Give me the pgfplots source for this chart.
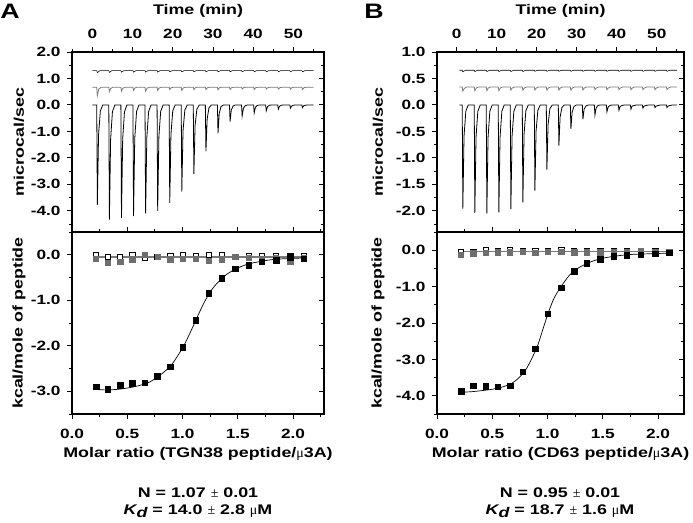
\documentclass[border=0pt]{standalone}
\usepackage{fontspec}
\setmainfont{Liberation Sans}[FakeStretch=1.28]
\newfontfamily\symf{Liberation Serif}
\usepackage{pgfplots}
\pgfplotsset{compat=1.18}

\definecolor{tracegray}{HTML}{7A7A7A}
\definecolor{sqgray}{HTML}{6E6E6E}

\newcommand{\labfont}{\bfseries\fontsize{14}{16}\selectfont}

\pgfplotsset{
  itc/.style={
    scale only axis,
    axis line style={line width=1.1pt},
    tick style={black, line width=0.9pt},
    major tick length=5bp, minor tick length=3bp,
    tick align=outside, ytick pos=left,
    tick label style={font=\bfseries\fontsize{13.5}{15}\selectfont},
    /pgf/number format/assume math mode=true,
    yticklabel style={xshift=-3bp, /pgf/number format/.cd, fixed, fixed zerofill, precision=1},
  },
  ylab/.style={
    ylabel={#1},
    every axis y label/.style={at={(axis description cs:0,0.5)}, xshift=-53bp,
      rotate=90, anchor=center, font=\labfont},
  },
  ylabB/.style={
    ylabel={#1},
    every axis y label/.style={at={(axis description cs:0,0.5)}, xshift=-59bp,
      rotate=90, anchor=center, font=\labfont},
  },
  rt/.style={
    scale only axis, hide x axis, axis y line*=right,
    axis line style={line width=1.1pt},
    tick style={black, line width=0.9pt},
    major tick length=5bp, minor tick length=3bp,
    tick align=inside, yticklabels={},
  },
  topx/.style={
    xtick={0,10,...,50}, minor xtick={-5,5,...,55},
    xtick pos=right, xticklabel pos=right, xlabel={Time (min)},
    xticklabel style={yshift=5bp},
    every axis x label/.style={at={(axis description cs:0.5,1)}, anchor=center,
      yshift=41bp, font=\labfont},
  },
  botx/.style={
    xmin=0, xtick={0,0.5,...,2}, minor xtick={0.25,0.75,...,2.25},
    xticklabel style={yshift=-7bp, /pgf/number format/.cd, fixed, fixed zerofill, precision=1},
    every axis x label/.style={at={(axis description cs:0.5,0)}, anchor=center,
      yshift=-40bp, font=\labfont},
  },
}

\begin{document}
\begin{tikzpicture}
\path[use as bounding box] (0,0) rectangle (693bp,-523bp);

%% ---------------- panel A, raw heats
\begin{axis}[itc, topx, ylab={microcal/sec}, at={(72bp,-52bp)}, anchor=north west,
  width=252bp, height=180bp, xmin=-5.05, xmax=57.6, ymin=-4.8, ymax=2.0,
  ytick={-4,-3,...,2}, minor ytick={-4.5,-3.5,...,1.5}]
\addplot[black, line width=0.55pt] coordinates {
(0,1.30)(1.1,1.30)(1.25,1.22)(1.9,1.30)(4.1,1.30)(4.25,1.23)(4.9,1.30)(7.1,1.30)(7.25,1.24)(7.9,1.30)
(10.1,1.30)(10.25,1.24)(10.9,1.30)(13.1,1.30)(13.25,1.24)(13.9,1.30)(16.1,1.30)(16.25,1.24)(16.9,1.30)
(19.1,1.30)(19.25,1.25)(19.9,1.30)(22.1,1.30)(22.25,1.25)(22.9,1.30)(25.1,1.30)(25.25,1.25)(25.9,1.30)
(28.1,1.30)(28.25,1.25)(28.9,1.30)(31.1,1.30)(31.25,1.25)(31.9,1.30)(34.1,1.30)(34.25,1.25)(34.9,1.30)
(37.1,1.30)(37.25,1.25)(37.9,1.30)(40.1,1.30)(40.25,1.25)(40.9,1.30)(43.1,1.30)(43.25,1.25)(43.9,1.30)
(46.1,1.30)(46.25,1.25)(46.9,1.30)(49.1,1.30)(49.25,1.25)(49.9,1.30)(52.1,1.30)(52.25,1.25)(52.9,1.30)(55,1.30)};
\addplot[tracegray, line width=0.8pt] coordinates {
(0,0.67)(1.1,0.67)(1.25,0.35)(1.6,0.60)(2.2,0.67)(4.1,0.67)(4.25,0.50)(4.6,0.63)(5.2,0.67)
(7.1,0.67)(7.25,0.52)(7.6,0.63)(8.2,0.67)(10.1,0.67)(10.25,0.55)(10.6,0.64)(11.2,0.67)
(13.1,0.67)(13.25,0.52)(13.6,0.63)(14.2,0.67)(16.1,0.67)(16.25,0.55)(16.6,0.64)(17.2,0.67)
(19.1,0.67)(19.25,0.58)(19.6,0.65)(20.2,0.67)(22.1,0.67)(22.25,0.55)(22.6,0.64)(23.2,0.67)
(25.1,0.67)(25.25,0.58)(25.6,0.65)(26.2,0.67)(28.1,0.67)(28.25,0.58)(28.6,0.65)(29.2,0.67)
(31.1,0.67)(31.25,0.57)(31.6,0.65)(32.2,0.67)(34.1,0.67)(34.25,0.58)(34.6,0.65)(35.2,0.67)
(37.1,0.67)(37.25,0.60)(37.6,0.65)(38.2,0.67)(40.1,0.67)(40.25,0.58)(40.6,0.65)(41.2,0.67)
(43.1,0.67)(43.25,0.60)(43.6,0.65)(44.2,0.67)(46.1,0.67)(46.25,0.60)(46.6,0.65)(47.2,0.67)
(49.1,0.67)(49.25,0.60)(49.6,0.65)(50.2,0.67)(52.1,0.67)(52.25,0.58)(52.6,0.65)(53.2,0.67)(55,0.67)};
\addplot[black, line width=0.8pt] coordinates {
(0,0)(1.1,0)(1.25,-3.78)(1.55,-1.13)(2.0,-0.23)(2.6,0)
(4.1,0)(4.25,-4.33)(4.55,-1.30)(5.0,-0.26)(5.6,0)
(7.1,0)(7.25,-4.28)(7.55,-1.28)(8.0,-0.26)(8.6,0)
(10.1,0)(10.25,-4.20)(10.55,-1.26)(11.0,-0.25)(11.6,0)
(13.1,0)(13.25,-4.10)(13.55,-1.23)(14.0,-0.25)(14.6,0)
(16.1,0)(16.25,-4.00)(16.55,-1.20)(17.0,-0.24)(17.6,0)
(19.1,0)(19.25,-3.70)(19.55,-1.11)(20.0,-0.22)(20.6,0)
(22.1,0)(22.25,-3.27)(22.55,-0.98)(23.0,-0.20)(23.6,0)
(25.1,0)(25.25,-2.60)(25.55,-0.78)(26.0,-0.16)(26.6,0)
(28.1,0)(28.25,-1.75)(28.55,-0.53)(29.0,-0.11)(29.6,0)
(31.1,0)(31.25,-1.07)(31.55,-0.32)(32.0,-0.06)(32.6,0)
(34.1,0)(34.25,-0.63)(34.55,-0.19)(35.0,-0.04)(35.6,0)
(37.1,0)(37.25,-0.42)(37.55,-0.13)(38.0,-0.03)(38.6,0)
(40.1,0)(40.25,-0.30)(40.55,-0.09)(41.0,-0.02)(41.6,0)
(43.1,0)(43.25,-0.22)(43.55,-0.07)(44.0,-0.01)(44.6,0)
(46.1,0)(46.25,-0.16)(46.55,-0.05)(47.0,-0.01)(47.6,0)
(49.1,0)(49.25,-0.12)(49.55,-0.04)(50.0,-0.01)(50.6,0)
(52.1,0)(52.25,-0.10)(52.55,-0.03)(53.0,-0.01)(53.6,0)(55,0)};
\end{axis}
\begin{axis}[rt, at={(72bp,-52bp)}, anchor=north west, width=252bp, height=180bp,
  xmin=-5.05, xmax=57.6, ymin=-4.8, ymax=2.0, ytick={-4,-3,...,2}, minor ytick={-4.5,-3.5,...,1.5}]
\addplot[draw=none] coordinates {(0,0)};
\end{axis}

%% ---------------- panel A, isotherm
\begin{axis}[itc, botx, ylab={kcal/mole of peptide}, at={(72bp,-232bp)}, anchor=north west,
  width=252bp, height=182bp, xmax=2.28, ymin=-3.5, ymax=0.5,
  ytick={-3,-2,-1,0}, minor ytick={-3.5,-2.5,...,0.5},
  xlabel={Molar ratio (TGN38 peptide/{\mdseries\symf μ}3A)}]
\addplot[tracegray, line width=1.6pt] coordinates {(0.2,-0.045)(2.1,-0.045)};
\addplot[only marks, mark=square*, mark size=2.7pt, mark options={fill=white, draw=black, line width=0.6pt}] coordinates {
(0.217,-0.01)(0.323,-0.04)(0.435,-0.05)(0.546,0.0)(0.658,-0.07)(0.773,-0.04)(0.888,-0.03)(1.0,-0.01)(1.12,-0.02)
(1.235,0.0)(1.356,-0.01)(1.476,-0.04)(1.597,-0.03)(1.718,-0.03)(1.845,-0.03)(1.975,-0.03)(2.095,-0.03)};
\addplot[only marks, mark=square*, mark size=2.7pt, mark options={fill=sqgray, draw=sqgray}] coordinates {
(0.217,-0.09)(0.323,-0.18)(0.435,-0.15)(0.546,-0.10)(0.658,0.0)(0.773,-0.04)(0.888,-0.10)(1.0,-0.09)(1.12,-0.09)
(1.235,-0.13)(1.356,-0.10)(1.476,-0.04)(1.597,-0.07)(1.718,-0.08)(1.845,-0.06)(1.975,-0.15)(2.095,-0.06)};
\addplot[black, line width=0.7pt, smooth] coordinates {
(0.2,-2.96)(0.3,-2.97)(0.4,-2.96)(0.5,-2.93)(0.6,-2.88)(0.7,-2.80)(0.8,-2.64)(0.9,-2.42)(1.0,-2.05)
(1.05,-1.81)(1.1,-1.55)(1.15,-1.28)(1.2,-1.03)(1.25,-0.82)(1.3,-0.66)(1.4,-0.43)(1.5,-0.29)(1.6,-0.20)
(1.7,-0.15)(1.8,-0.11)(1.9,-0.09)(2.0,-0.08)(2.1,-0.07)};
\addplot[only marks, mark=square*, mark size=2.8pt, mark options={fill=black}] coordinates {
(0.217,-2.90)(0.323,-2.95)(0.435,-2.87)(0.546,-2.82)(0.658,-2.81)(0.773,-2.67)(0.888,-2.46)(1.0,-2.03)(1.12,-1.44)
(1.235,-0.84)(1.356,-0.52)(1.476,-0.31)(1.597,-0.23)(1.718,-0.15)(1.845,-0.12)(1.975,-0.06)(2.095,-0.09)};
\end{axis}
\begin{axis}[rt, at={(72bp,-232bp)}, anchor=north west, width=252bp, height=182bp,
  xmin=0, xmax=2.28, ymin=-3.5, ymax=0.5, ytick={-3,-2,-1,0}, minor ytick={-3.5,-2.5,...,0.5}]
\addplot[draw=none] coordinates {(1,0)};
\end{axis}

%% ---------------- panel B, raw heats
\begin{axis}[itc, topx, ylabB={microcal/sec}, at={(437bp,-52bp)}, anchor=north west,
  width=247bp, height=180bp, xmin=-4.9, xmax=56.8, ymin=-2.4, ymax=1.0,
  ytick={-2,-1.5,...,1}, minor ytick={-2.25,-1.75,...,0.75}]
\addplot[black, line width=0.55pt] coordinates {
(0.7,0.655)(1.4,0.655)(1.55,0.625)(2.2,0.655)(4.4,0.655)(4.55,0.63)(5.2,0.655)(7.4,0.655)(7.55,0.63)(8.2,0.655)
(10.4,0.655)(10.55,0.63)(11.2,0.655)(13.4,0.655)(13.55,0.63)(14.2,0.655)(16.4,0.655)(16.55,0.63)(17.2,0.655)
(19.4,0.655)(19.55,0.635)(20.2,0.655)(22.4,0.655)(22.55,0.635)(23.2,0.655)(25.4,0.655)(25.55,0.635)(26.2,0.655)
(28.4,0.655)(28.55,0.635)(29.2,0.655)(31.4,0.655)(31.55,0.635)(32.2,0.655)(34.4,0.655)(34.55,0.635)(35.2,0.655)
(37.4,0.655)(37.55,0.635)(38.2,0.655)(40.4,0.655)(40.55,0.635)(41.2,0.655)(43.4,0.655)(43.55,0.635)(44.2,0.655)
(46.4,0.655)(46.55,0.635)(47.2,0.655)(49.4,0.655)(49.55,0.635)(50.2,0.655)(52.4,0.655)(52.55,0.635)(53.2,0.655)(55,0.655)};
\addplot[tracegray, line width=0.8pt] coordinates {
(0.7,0.34)(1.4,0.34)(1.55,0.26)(1.9,0.31)(2.5,0.34)(4.4,0.34)(4.55,0.27)(4.9,0.32)(5.5,0.34)
(7.4,0.34)(7.55,0.27)(7.9,0.32)(8.5,0.34)(10.4,0.34)(10.55,0.27)(10.9,0.32)(11.5,0.34)
(13.4,0.34)(13.55,0.28)(13.9,0.32)(14.5,0.34)(16.4,0.34)(16.55,0.28)(16.9,0.32)(17.5,0.34)
(19.4,0.34)(19.55,0.28)(19.9,0.32)(20.5,0.34)(22.4,0.34)(22.55,0.28)(22.9,0.32)(23.5,0.34)
(25.4,0.34)(25.55,0.28)(25.9,0.32)(26.5,0.34)(28.4,0.34)(28.55,0.28)(28.9,0.32)(29.5,0.34)
(31.4,0.34)(31.55,0.28)(31.9,0.32)(32.5,0.34)(34.4,0.34)(34.55,0.29)(34.9,0.32)(35.5,0.34)
(37.4,0.34)(37.55,0.29)(37.9,0.32)(38.5,0.34)(40.4,0.34)(40.55,0.29)(40.9,0.32)(41.5,0.34)
(43.4,0.34)(43.55,0.29)(43.9,0.32)(44.5,0.34)(46.4,0.34)(46.55,0.29)(46.9,0.32)(47.5,0.34)
(49.4,0.34)(49.55,0.29)(49.9,0.32)(50.5,0.34)(52.4,0.34)(52.55,0.29)(52.9,0.32)(53.5,0.34)(55,0.34)};
\addplot[black, line width=0.8pt] coordinates {
(0.7,0)(1.4,0)(1.55,-1.96)(1.85,-0.59)(2.3,-0.12)(2.9,0)
(4.4,0)(4.55,-2.04)(4.85,-0.61)(5.3,-0.12)(5.9,0)
(7.4,0)(7.55,-2.05)(7.85,-0.62)(8.3,-0.12)(8.9,0)
(10.4,0)(10.55,-2.03)(10.85,-0.61)(11.3,-0.12)(11.9,0)
(13.4,0)(13.55,-1.97)(13.85,-0.59)(14.3,-0.12)(14.9,0)
(16.4,0)(16.55,-1.84)(16.85,-0.55)(17.3,-0.11)(17.9,0)
(19.4,0)(19.55,-1.62)(19.85,-0.49)(20.3,-0.10)(20.9,0)
(22.4,0)(22.55,-1.22)(22.85,-0.37)(23.3,-0.07)(23.9,0)
(25.4,0)(25.55,-0.77)(25.85,-0.23)(26.3,-0.05)(26.9,0)
(28.4,0)(28.55,-0.45)(28.85,-0.14)(29.3,-0.03)(29.9,0)
(31.4,0)(31.55,-0.27)(31.85,-0.08)(32.3,-0.02)(32.9,0)
(34.4,0)(34.55,-0.19)(34.85,-0.06)(35.3,-0.01)(35.9,0)
(37.4,0)(37.55,-0.13)(37.85,-0.04)(38.3,-0.01)(38.9,0)
(40.4,0)(40.55,-0.10)(40.85,-0.03)(41.3,-0.01)(41.9,0)
(43.4,0)(43.55,-0.08)(43.85,-0.02)(44.9,0)
(46.4,0)(46.55,-0.06)(46.85,-0.02)(47.9,0)
(49.4,0)(49.55,-0.05)(49.85,-0.02)(50.9,0)
(52.4,0)(52.55,-0.05)(52.85,-0.02)(53.9,0)(55,0)};
\end{axis}
\begin{axis}[rt, at={(437bp,-52bp)}, anchor=north west, width=247bp, height=180bp,
  xmin=-4.9, xmax=56.8, ymin=-2.4, ymax=1.0, ytick={-2,-1.5,...,1}, minor ytick={-2.25,-1.75,...,0.75}]
\addplot[draw=none] coordinates {(0,0)};
\end{axis}

%% ---------------- panel B, isotherm
\begin{axis}[itc, botx, ylabB={kcal/mole of peptide}, at={(437bp,-232bp)}, anchor=north west,
  width=247bp, height=182bp, xmax=2.235, ymin=-4.5, ymax=0.5,
  ytick={-4,-3,-2,-1,0}, minor ytick={-4.5,-3.5,...,0.5},
  xlabel={Molar ratio (CD63 peptide/{\mdseries\symf μ}3A)}]
\addplot[tracegray, line width=1.6pt] coordinates {(0.2,-0.04)(2.1,-0.04)};
\addplot[only marks, mark=square*, mark size=2.7pt, mark options={fill=white, draw=black, line width=0.6pt}] coordinates {
(0.217,-0.05)(0.329,-0.04)(0.44,0.0)(0.55,-0.02)(0.66,0.01)(0.776,-0.02)(0.89,-0.02)(1.0,-0.01)(1.123,0.0)
(1.24,-0.02)(1.356,-0.02)(1.476,-0.02)(1.597,-0.02)(1.718,-0.02)(1.845,-0.01)(1.975,-0.02)(2.10,-0.04)};
\addplot[only marks, mark=square*, mark size=2.7pt, mark options={fill=sqgray, draw=sqgray}] coordinates {
(0.217,-0.12)(0.329,-0.08)(0.44,-0.07)(0.55,-0.05)(0.66,-0.05)(0.776,-0.04)(0.89,-0.07)(1.0,-0.04)(1.123,-0.04)
(1.24,-0.05)(1.356,-0.05)(1.476,-0.05)(1.597,-0.05)(1.718,-0.04)(1.845,-0.03)(1.975,-0.04)(2.10,-0.05)};
\addplot[black, line width=0.7pt, smooth] coordinates {
(0.2,-3.90)(0.3,-3.89)(0.4,-3.86)(0.5,-3.82)(0.6,-3.75)(0.7,-3.61)(0.8,-3.30)(0.9,-2.70)(0.95,-2.25)(1.0,-1.78)
(1.05,-1.38)(1.1,-1.10)(1.15,-0.88)(1.2,-0.68)(1.25,-0.55)(1.3,-0.45)(1.4,-0.31)(1.5,-0.22)(1.6,-0.17)
(1.7,-0.13)(1.8,-0.11)(1.9,-0.10)(2.0,-0.09)(2.1,-0.08)};
\addplot[only marks, mark=square*, mark size=2.8pt, mark options={fill=black}] coordinates {
(0.217,-3.87)(0.329,-3.72)(0.44,-3.74)(0.55,-3.75)(0.66,-3.72)(0.776,-3.34)(0.89,-2.71)(1.0,-1.74)(1.123,-1.03)
(1.24,-0.57)(1.356,-0.35)(1.476,-0.24)(1.597,-0.17)(1.718,-0.13)(1.845,-0.12)(1.975,-0.10)(2.10,-0.07)};
\end{axis}
\begin{axis}[rt, at={(437bp,-232bp)}, anchor=north west, width=247bp, height=182bp,
  xmin=0, xmax=2.235, ymin=-4.5, ymax=0.5, ytick={-4,-3,-2,-1,0}, minor ytick={-4.5,-3.5,...,0.5}]
\addplot[draw=none] coordinates {(1,0)};
\end{axis}

%% ---------------- panel letters and fit results
\node[font=\bfseries\fontsize{21}{24}\selectfont, anchor=center] at (10bp,-11bp) {A};
\node[font=\bfseries\fontsize{21}{24}\selectfont, anchor=center] at (374bp,-11bp) {B};
\node[font=\labfont, align=center] at (198bp,-503bp)
  {N = 1.07 {\mdseries\symf ±} 0.01\\[1pt]{\itshape K\raisebox{-0.3ex}{d}} = 14.0 {\mdseries\symf ±} 2.8 {\mdseries\symf μ}M};
\node[font=\labfont, align=center] at (560bp,-503bp)
  {N = 0.95 {\mdseries\symf ±} 0.01\\[1pt]{\itshape K\raisebox{-0.3ex}{d}} = 18.7 {\mdseries\symf ±} 1.6 {\mdseries\symf μ}M};
\end{tikzpicture}
\end{document}
